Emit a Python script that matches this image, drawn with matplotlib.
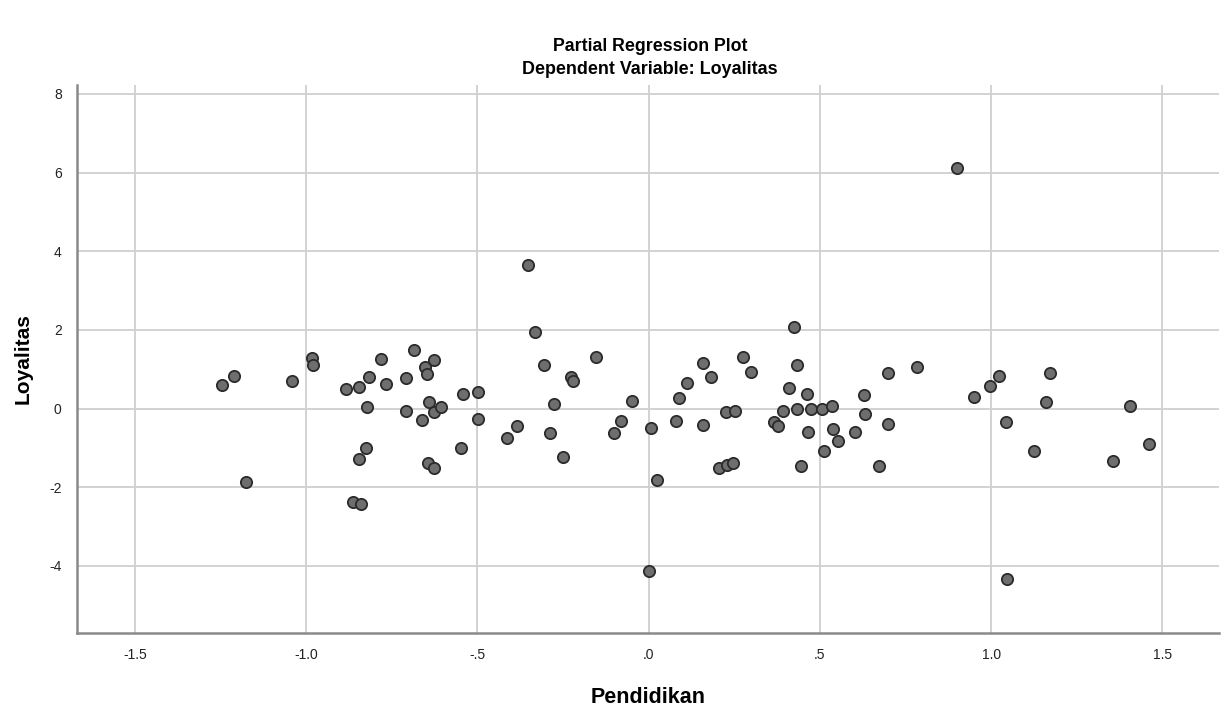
import matplotlib
matplotlib.use("Agg")
import matplotlib.pyplot as plt

plt.rcParams['font.family'] = ['Liberation Sans', 'DejaVu Sans']
plt.rcParams['axes.unicode_minus'] = False

pendidikan = [
    -1.247, -1.210, -1.176, -1.041, -0.983, -0.981, -0.883, -0.846, -0.816, -0.781,
    -0.767, -0.821, -0.708, -0.684, -0.652, -0.628, -0.646, -0.641, -0.628, -0.605,
    -0.708, -0.662, -0.542, -0.498, -0.497, -0.549, -0.825, -0.846, -0.643, -0.626,
    -0.864, -0.841, -0.333, -0.351, -0.307, -0.155, -0.228, -0.222, -0.276, -0.384,
    -0.413, -0.287, -0.250, -0.049, -0.082, -0.102, 0.008, 0.024, 0.080, 0.088,
    0.112, 0.159, 0.183, 0.158, 0.227, 0.252, 0.275, 0.298, 0.204, 0.228,
    0.246, 0.425, 0.433, 0.409, 0.462, 0.392, 0.434, 0.475, 0.506, 0.536,
    0.367, 0.379, 0.465, 0.539, 0.554, 0.603, 0.512, 0.446, 0.630, 0.633,
    0.672, 0.700, 0.698, 0.784, 0.901, 0.950, 0.996, 1.022, 1.042, 1.124,
    1.172, 1.161, 1.406, 1.356, 1.460, 0.002, 1.045,
]
loyalitas = [
    0.60, 0.83, -1.87, 0.71, 1.29, 1.11, 0.49, 0.54, 0.80, 1.25,
    0.62, 0.04, 0.77, 1.49, 1.06, 1.23, 0.87, 0.17, -0.09, 0.03,
    -0.05, -0.29, 0.37, 0.41, -0.26, -1.00, -1.00, -1.27, -1.39, -1.52,
    -2.37, -2.43, 1.95, 3.65, 1.11, 1.31, 0.80, 0.71, 0.11, -0.45,
    -0.76, -0.63, -1.24, 0.19, -0.32, -0.61, -0.49, -1.81, -0.32, 0.28,
    0.64, 1.17, 0.80, -0.41, -0.09, -0.06, 1.32, 0.92, -1.51, -1.44,
    -1.39, 2.07, 1.12, 0.53, 0.37, -0.06, -0.01, -0.01, 0.00, 0.07,
    -0.35, -0.45, -0.60, -0.51, -0.82, -0.59, -1.09, -1.45, 0.35, -0.14,
    -1.46, 0.90, -0.39, 1.05, 6.11, 0.29, 0.57, 0.82, -0.33, -1.09,
    0.90, 0.16, 0.06, -1.33, -0.90, -4.13, -4.33,
]

x_ticks = [-1.5, -1.0, -0.5, 0.0, 0.5, 1.0, 1.5]
x_tick_labels = ["-1.5", "-1.0", "-.5", ".0", ".5", "1.0", "1.5"]
y_ticks = [-4, -2, 0, 2, 4, 6, 8]
y_tick_labels = ["-4", "-2", "0", "2", "4", "6", "8"]

fig = plt.figure(figsize=(12.24, 7.13), dpi=100)
ax = fig.add_axes([0.0629, 0.112, 0.933, 0.769])

ax.scatter(pendidikan, loyalitas, s=66, facecolor='#6e6e6e', edgecolor='#2b2b2b',
           linewidth=1.3, zorder=3)

ax.set_xlim(-1.669, 1.665)
ax.set_ylim(-5.71, 8.23)
ax.set_xticks(x_ticks)
ax.set_xticklabels(x_tick_labels)
ax.set_yticks(y_ticks)
ax.set_yticklabels(y_tick_labels)
ax.grid(True, color='#cfcfcf', linewidth=1.3, zorder=0)
ax.set_axisbelow(True)
ax.tick_params(length=0, labelsize=10, colors='#222222', pad=11)

for side in ['top', 'right']:
    ax.spines[side].set_visible(False)
for side in ['left', 'bottom']:
    ax.spines[side].set_color('#8a8a8a')
    ax.spines[side].set_linewidth(1.8)

ax.set_xlabel('Pendidikan', fontsize=15.5, fontweight='bold', labelpad=18)
ax.set_ylabel('Loyalitas', fontsize=15, fontweight='bold', labelpad=12)

fig.text(0.531, 0.935, 'Partial Regression Plot', ha='center', va='center',
         fontsize=12.8, fontweight='bold')
fig.text(0.531, 0.903, 'Dependent Variable: Loyalitas', ha='center', va='center',
         fontsize=12.9, fontweight='bold')

fig.savefig('out.png', dpi=100, facecolor='white')
